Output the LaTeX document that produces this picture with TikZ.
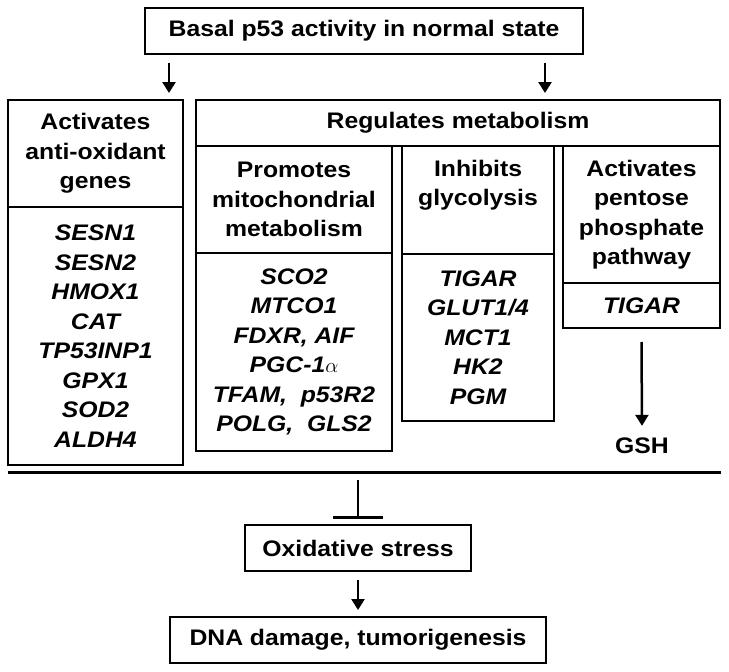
\documentclass[tikz,border=0pt]{standalone}
\usepackage{fontspec}
\setmainfont{Liberation Sans}[FakeStretch=1.1]
\usetikzlibrary{arrows.meta}
\begin{document}
\begin{tikzpicture}[x=1pt,y=-1pt,
  font=\fontsize{22.5}{29.5}\selectfont\bfseries,
  box/.style={draw, line width=2.5pt, inner sep=0pt, outer sep=0pt, align=center, anchor=north west},
  genes/.style={font=\fontsize{22.5}{29.5}\selectfont\bfseries\itshape},
  arr/.style={line width=2.5pt, -{Triangle[width=13pt,length=11pt]}},
  sep/.style={line width=3pt}]
\useasboundingbox (0,0) rectangle (729,672);

\node[box, minimum width=438pt, minimum height=46pt] (top) at (145,8) {Basal p53 activity in normal state};

\node[box, minimum width=175pt, minimum height=107pt] (aoh) at (8,100) {Activates\\anti-oxidant\\genes};
\node[box, genes, minimum width=175pt, minimum height=258pt] (aog) at (8,207) {SESN1\\SESN2\\HMOX1\\CAT\\TP53INP1\\GPX1\\SOD2\\ALDH4};

\node[box, minimum width=524pt, minimum height=46pt] (reg) at (196,100) {Regulates metabolism};

\node[box, minimum width=196pt, minimum height=107pt] (pmh) at (196,146) {Promotes\\mitochondrial\\metabolism};
\node[box, genes, minimum width=196pt, minimum height=198pt] (pmg) at (196,253) {SCO2\\MTCO1\\FDXR, AIF\\PGC-1$\alpha$\\TFAM,\ \ p53R2\\POLG,\ \ GLS2};

\node[box, minimum width=152pt, minimum height=108pt] (igh) at (402,146) {};
\node[align=center, inner sep=0pt] (igt) at (478,185) {Inhibits\\glycolysis};
\node[box, genes, minimum width=152pt, minimum height=167pt] (igg) at (402,254) {TIGAR\\GLUT1/4\\MCT1\\HK2\\PGM};

\node[box, minimum width=157pt, minimum height=137pt] (pph) at (563,146) {Activates\\pentose\\phosphate\\pathway};
\node[box, genes, minimum width=157pt, minimum height=45pt] (ppg) at (563,283) {TIGAR};

\node[inner sep=0pt] (gsh) at (642,446) {GSH};

\draw[arr] ([shift={(24,9)}]top.south west) -- ([shift={(161,-7)}]aoh.north west);
\draw[arr] ([shift={(-38,9)}]top.south east) -- ([shift={(349,-7)}]reg.north west);
\draw[arr] ([yshift=-14pt]ppg.south) -- ([yshift=12pt]gsh.north);

\coordinate (sepL) at (8,472);
\coordinate (sepR) at (721,472);
\draw[sep] (sepL) -- (sepR);

\node[box, minimum width=226pt, minimum height=46pt] (ox) at (245,525) {Oxidative stress};
\node[box, minimum width=376pt, minimum height=46pt] (dna) at (170,617) {DNA damage, tumorigenesis};

\draw[line width=2.5pt] ([yshift=45pt]ox.north) -- ([yshift=8pt]ox.north);
\draw[sep] ([shift={(-25,-8)}]ox.north) -- ([shift={(25,-8)}]ox.north);
\draw[arr] ([yshift=-9pt]ox.south) -- ([yshift=7pt]dna.north);
\end{tikzpicture}
\end{document}
